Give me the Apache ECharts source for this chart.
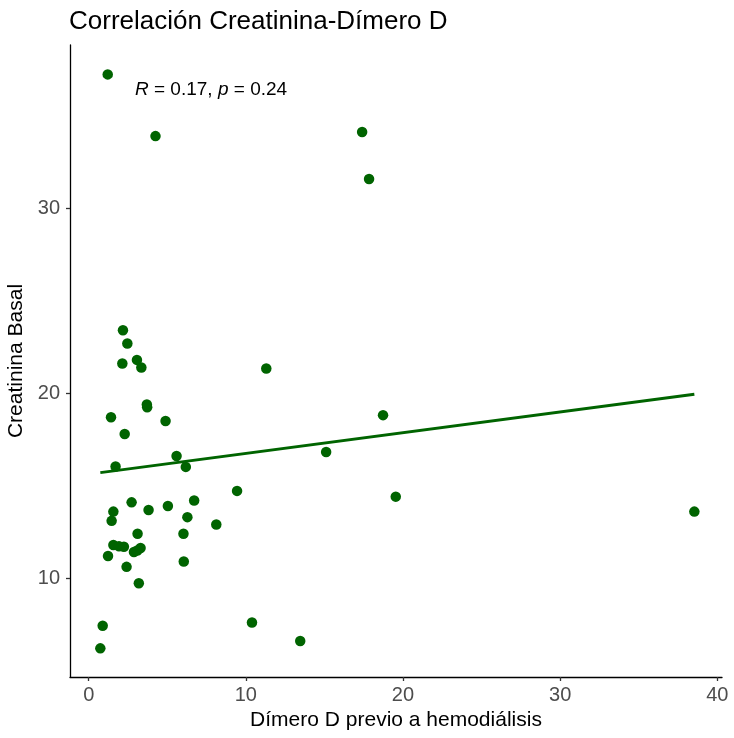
<!DOCTYPE html>
<html><head><meta charset="utf-8">
<script src="https://cdn.jsdelivr.net/npm/echarts@6/dist/echarts.min.js"></script>
<style>html,body{margin:0;padding:0;background:#fff}#c{width:734px;height:738px}</style>
</head><body><div id="c"></div>
<script>
// Dímero D previo a hemodiálisis
const dimeroD = [1.21,4.25,17.4,17.84,2.18,2.46,2.14,3.07,3.35,11.3,3.7,3.72,4.89,1.42,2.29,5.59,6.18,1.71,15.11,18.73,19.54,9.44,6.71,6.28,8.12,6.03,6.05,10.39,13.46,38.54,2.73,1.57,1.46,3.81,5.04,3.11,1.57,1.93,2.24,2.88,3.09,3.3,1.23,2.41,3.19,0.89,0.74];
// Creatinina Basal
const creatinina = [37.26,33.92,34.14,31.6,23.41,22.7,21.61,21.81,21.4,21.34,19.4,19.25,18.5,18.71,17.8,16.61,16.02,16.04,16.83,18.82,14.41,14.72,14.2,13.3,12.9,12.4,10.9,7.6,6.6,13.6,14.1,13.6,13.1,13.69,13.9,12.4,11.79,11.72,11.7,11.41,11.5,11.63,11.2,10.61,9.72,7.42,6.2];
// regression line endpoints
const fitX = [0.74, 38.54];
const fitY = [15.71, 19.95];
const xTicks = [0, 10, 20, 30, 40];
const yTicks = [10, 20, 30];

const pts = dimeroD.map((x, i) => [x, creatinina[i]]);
const fit = fitX.map((x, i) => [x, fitY[i]]);
const FONT = '"Liberation Sans", Arial, sans-serif';
const chart = echarts.init(document.getElementById('c'));
chart.setOption({
  animation: false,
  backgroundColor: '#fff',
  grid: {left: 70, right: 12, top: 45, bottom: 61, containLabel: false, outerBoundsMode: 'none'},
  xAxis: {
    type: 'value', min: -1.19, max: 40.3,
    name: 'Dímero D previo a hemodiálisis', nameLocation: 'middle', nameGap: 33,
    nameTextStyle: {fontFamily: FONT, fontSize: 21, color: '#000'},
    axisLine: {onZero: false, lineStyle: {color: '#000', width: 1.3}},
    axisTick: {show: true, length: 4, lineStyle: {color: '#333', width: 1.3}, customValues: xTicks},
    axisLabel: {fontFamily: FONT, fontSize: 20, color: '#4d4d4d', margin: 8, customValues: xTicks},
    splitLine: {show: false}
  },
  yAxis: {
    type: 'value', min: 4.65, max: 38.85,
    name: 'Creatinina Basal', nameLocation: 'middle', nameGap: 40,
    nameTextStyle: {fontFamily: FONT, fontSize: 21, color: '#000'},
    axisLine: {onZero: false, lineStyle: {color: '#000', width: 1.3}},
    axisTick: {show: true, length: 4, lineStyle: {color: '#333', width: 1.3}, customValues: yTicks},
    axisLabel: {fontFamily: FONT, fontSize: 20, color: '#4d4d4d', margin: 10, customValues: yTicks},
    splitLine: {show: false}
  },
  graphic: [{
    type: 'text', x: 69, y: 22,
    style: {
      text: 'Correlación Creatinina-Dímero D',
      fontFamily: FONT, fontSize: 26, fill: '#000',
      textVerticalAlign: 'middle', verticalAlign: 'middle'
    }
  }, {
    type: 'text', x: 135, y: 90,
    style: {
      text: '{i|R} = 0.17, {i|p} = 0.24',
      fontFamily: FONT, fontSize: 19, fill: '#000',
      textVerticalAlign: 'middle', verticalAlign: 'middle',
      rich: {i: {fontStyle: 'italic', fontFamily: FONT, fontSize: 19}}
    }
  }],
  series: [{
    type: 'scatter', data: pts, symbolSize: 10.5,
    itemStyle: {color: '#006400', opacity: 1}, z: 3
  }, {
    type: 'line', data: fit, symbol: 'none',
    lineStyle: {color: '#006400', width: 3}, z: 2
  }]
});
</script></body></html>
